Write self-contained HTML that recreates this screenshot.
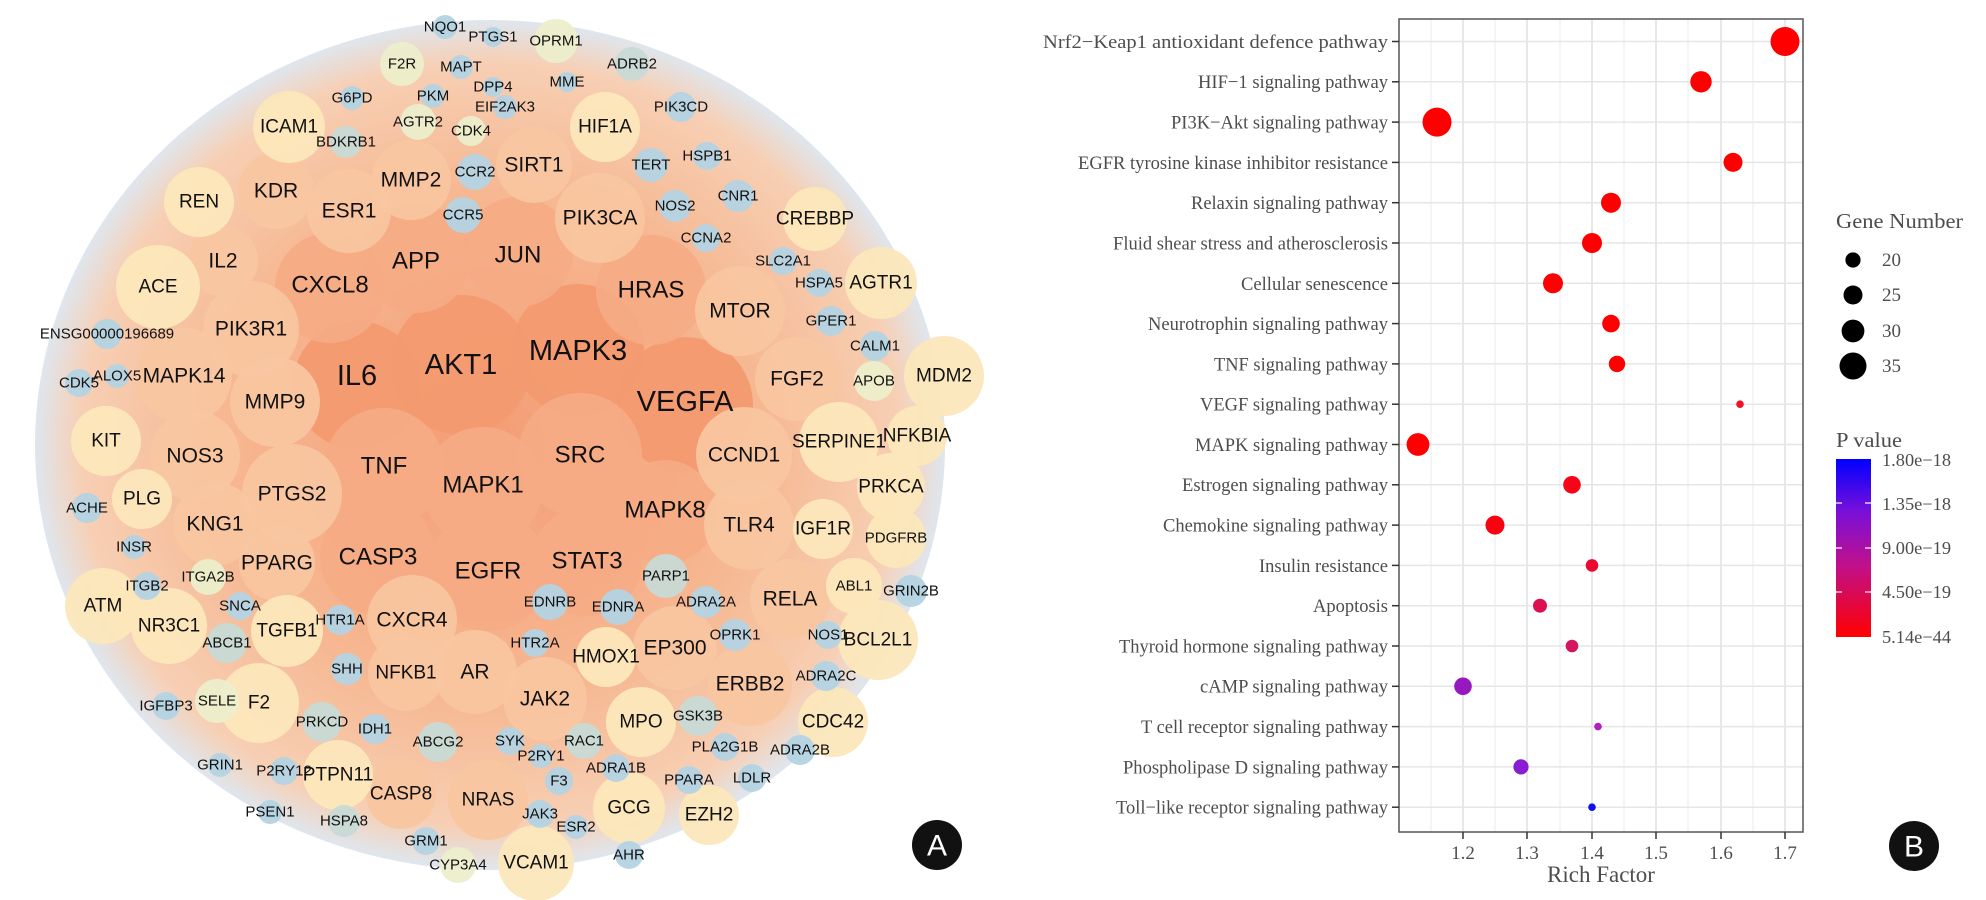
<!DOCTYPE html>
<html><head><meta charset="utf-8"><style>
html,body{margin:0;padding:0;background:#fff;}
svg{display:block;}
.b{fill:#f39a70;opacity:.95}
.o{fill:#f5ab84;opacity:.93}
.l{fill:#f8c6a0;opacity:.93}
.c{fill:#fce7ba;opacity:.95}
.g{fill:#eceecb;opacity:.95}
.s{fill:#b4d3e3;opacity:.95}
.sg{fill:#c8dad6;opacity:.95}
.na text{font-family:"Liberation Sans",sans-serif;fill:#111;text-anchor:middle;dominant-baseline:central;}
.t1{font-size:29px}.t2{font-size:24px}.t3{font-size:21px}.t4{font-size:19px}.t5{font-size:15px}
.sb text{font-family:"Liberation Serif",serif;fill:#4d4d4d;}
</style></head><body>
<svg width="1986" height="900" viewBox="0 0 1986 900">
<defs>
<radialGradient id="bg" cx="50%" cy="50%" r="50%">
<stop offset="0" stop-color="#f49c74"/><stop offset=".6" stop-color="#f6b892"/><stop offset=".9" stop-color="#f7cfb4"/><stop offset="1" stop-color="#dfe6ee"/>
</radialGradient>
<linearGradient id="cb" x1="0" y1="0" x2="0" y2="1">
<stop offset="0" stop-color="#0000ff"/><stop offset=".3" stop-color="#7a10d8"/><stop offset=".6" stop-color="#c0108a"/><stop offset="1" stop-color="#ff0000"/>
</linearGradient>
</defs>
<!-- Panel A -->
<ellipse cx="490" cy="445" rx="455" ry="425" fill="url(#bg)"/>
<g>
<circle class="b" cx="357" cy="385" r="64"/><circle class="b" cx="685" cy="405" r="68"/>
<circle class="b" cx="578" cy="350" r="66"/><circle class="b" cx="461" cy="365" r="70"/>
<circle class="o" cx="416" cy="258" r="55"/><circle class="o" cx="518" cy="252" r="55"/><circle class="o" cx="330" cy="288" r="55"/><circle class="o" cx="651" cy="290" r="55"/>
<circle class="o" cx="580" cy="455" r="62"/><circle class="o" cx="384" cy="468" r="60"/><circle class="o" cx="483" cy="487" r="60"/>
<circle class="o" cx="665" cy="512" r="52"/><circle class="o" cx="378" cy="557" r="58"/><circle class="o" cx="587" cy="561" r="55"/><circle class="o" cx="488" cy="571" r="60"/>
<circle class="l" cx="411" cy="180" r="40"/><circle class="l" cx="534" cy="165" r="38"/><circle class="l" cx="276" cy="191" r="38"/><circle class="l" cx="349" cy="211" r="42"/>
<circle class="l" cx="600" cy="218" r="45"/><circle class="l" cx="223" cy="261" r="35"/><circle class="l" cx="740" cy="311" r="45"/><circle class="l" cx="251" cy="329" r="48"/>
<circle class="l" cx="184" cy="376" r="48"/><circle class="l" cx="797" cy="379" r="42"/><circle class="l" cx="275" cy="402" r="45"/><circle class="l" cx="195" cy="456" r="45"/>
<circle class="l" cx="744" cy="455" r="48"/><circle class="l" cx="292" cy="494" r="50"/><circle class="l" cx="215" cy="524" r="42"/><circle class="l" cx="749" cy="525" r="45"/>
<circle class="l" cx="277" cy="563" r="38"/><circle class="l" cx="790" cy="599" r="40"/><circle class="l" cx="412" cy="620" r="45"/><circle class="l" cx="675" cy="648" r="42"/>
<circle class="l" cx="406" cy="673" r="38"/><circle class="l" cx="475" cy="672" r="42"/><circle class="l" cx="750" cy="684" r="42"/><circle class="l" cx="545" cy="699" r="42"/>
<circle class="l" cx="401" cy="794" r="35"/><circle class="l" cx="488" cy="800" r="40"/>
<circle class="c" cx="289" cy="127" r="36"/><circle class="c" cx="605" cy="127" r="35"/><circle class="c" cx="199" cy="202" r="35"/><circle class="c" cx="815" cy="219" r="32"/>
<circle class="c" cx="158" cy="287" r="42"/><circle class="c" cx="881" cy="283" r="36"/><circle class="c" cx="944" cy="376" r="40"/><circle class="c" cx="106" cy="441" r="35"/>
<circle class="c" cx="839" cy="442" r="40"/><circle class="c" cx="917" cy="436" r="30"/><circle class="c" cx="142" cy="499" r="30"/><circle class="c" cx="891" cy="487" r="34"/>
<circle class="c" cx="823" cy="529" r="30"/><circle class="c" cx="896" cy="538" r="30"/><circle class="c" cx="103" cy="606" r="38"/><circle class="c" cx="854" cy="586" r="28"/>
<circle class="c" cx="169" cy="626" r="38"/><circle class="c" cx="287" cy="631" r="36"/><circle class="c" cx="878" cy="640" r="40"/><circle class="c" cx="606" cy="657" r="30"/>
<circle class="c" cx="259" cy="703" r="40"/><circle class="c" cx="641" cy="722" r="35"/><circle class="c" cx="833" cy="722" r="35"/><circle class="c" cx="338" cy="775" r="35"/>
<circle class="c" cx="629" cy="808" r="36"/><circle class="c" cx="709" cy="815" r="30"/><circle class="c" cx="536" cy="863" r="38"/>
<circle class="g" cx="556" cy="41" r="22"/><circle class="g" cx="402" cy="64" r="22"/><circle class="g" cx="418" cy="122" r="18"/><circle class="g" cx="471" cy="131" r="15"/>
<circle class="g" cx="874" cy="381" r="20"/><circle class="g" cx="217" cy="701" r="22"/><circle class="g" cx="458" cy="865" r="18"/><circle class="g" cx="208" cy="577" r="18"/>
<circle class="sg" cx="632" cy="64" r="17"/><circle class="sg" cx="346" cy="142" r="16"/><circle class="sg" cx="666" cy="576" r="22"/><circle class="sg" cx="227" cy="643" r="20"/>
<circle class="sg" cx="698" cy="716" r="20"/><circle class="sg" cx="322" cy="722" r="20"/><circle class="sg" cx="438" cy="742" r="20"/><circle class="sg" cx="584" cy="741" r="18"/><circle class="sg" cx="344" cy="821" r="16"/>
<circle class="s" cx="445" cy="27" r="12"/><circle class="s" cx="493" cy="37" r="10"/><circle class="s" cx="461" cy="67" r="12"/><circle class="s" cx="567" cy="82" r="10"/>
<circle class="s" cx="493" cy="87" r="10"/><circle class="s" cx="433" cy="96" r="12"/><circle class="s" cx="352" cy="98" r="12"/><circle class="s" cx="505" cy="107" r="12"/>
<circle class="s" cx="681" cy="107" r="15"/><circle class="s" cx="475" cy="172" r="18"/><circle class="s" cx="651" cy="165" r="17"/><circle class="s" cx="707" cy="156" r="14"/>
<circle class="s" cx="463" cy="215" r="18"/><circle class="s" cx="675" cy="206" r="16"/><circle class="s" cx="738" cy="196" r="16"/><circle class="s" cx="706" cy="238" r="14"/>
<circle class="s" cx="783" cy="261" r="14"/><circle class="s" cx="819" cy="283" r="14"/><circle class="s" cx="831" cy="321" r="15"/><circle class="s" cx="107" cy="334" r="15"/>
<circle class="s" cx="875" cy="346" r="15"/><circle class="s" cx="117" cy="376" r="12"/><circle class="s" cx="79" cy="383" r="14"/><circle class="s" cx="87" cy="508" r="15"/>
<circle class="s" cx="134" cy="547" r="12"/><circle class="s" cx="147" cy="586" r="14"/><circle class="s" cx="911" cy="591" r="16"/><circle class="s" cx="240" cy="606" r="14"/>
<circle class="s" cx="550" cy="602" r="18"/><circle class="s" cx="618" cy="607" r="18"/><circle class="s" cx="706" cy="602" r="16"/><circle class="s" cx="340" cy="620" r="15"/>
<circle class="s" cx="735" cy="635" r="16"/><circle class="s" cx="828" cy="635" r="14"/><circle class="s" cx="535" cy="643" r="14"/><circle class="s" cx="347" cy="669" r="16"/>
<circle class="s" cx="826" cy="676" r="15"/><circle class="s" cx="166" cy="706" r="14"/><circle class="s" cx="375" cy="729" r="15"/><circle class="s" cx="510" cy="741" r="14"/>
<circle class="s" cx="541" cy="756" r="12"/><circle class="s" cx="725" cy="747" r="14"/><circle class="s" cx="800" cy="750" r="15"/><circle class="s" cx="220" cy="765" r="12"/>
<circle class="s" cx="284" cy="771" r="14"/><circle class="s" cx="559" cy="781" r="14"/><circle class="s" cx="616" cy="768" r="14"/><circle class="s" cx="689" cy="780" r="14"/>
<circle class="s" cx="752" cy="778" r="14"/><circle class="s" cx="270" cy="812" r="12"/><circle class="s" cx="540" cy="814" r="14"/><circle class="s" cx="576" cy="827" r="12"/>
<circle class="s" cx="426" cy="841" r="14"/><circle class="s" cx="629" cy="855" r="14"/>
</g>
<g class="na">
<text class="t1" x="357" y="376">IL6</text><text class="t1" x="461" y="365">AKT1</text><text class="t1" x="578" y="351">MAPK3</text><text class="t1" x="685" y="402">VEGFA</text>
<text class="t2" x="580" y="455">SRC</text><text class="t2" x="384" y="466">TNF</text><text class="t2" x="483" y="485">MAPK1</text><text class="t2" x="665" y="510">MAPK8</text>
<text class="t2" x="378" y="557">CASP3</text><text class="t2" x="587" y="561">STAT3</text><text class="t2" x="488" y="571">EGFR</text>
<text class="t2" x="416" y="261">APP</text><text class="t2" x="518" y="255">JUN</text><text class="t2" x="330" y="285">CXCL8</text><text class="t2" x="651" y="290">HRAS</text>
<text class="t3" x="411" y="180">MMP2</text><text class="t3" x="534" y="165">SIRT1</text><text class="t3" x="276" y="191">KDR</text><text class="t3" x="349" y="211">ESR1</text>
<text class="t3" x="600" y="218">PIK3CA</text><text class="t3" x="223" y="261">IL2</text><text class="t3" x="740" y="311">MTOR</text><text class="t3" x="251" y="329">PIK3R1</text>
<text class="t3" x="184" y="376">MAPK14</text><text class="t3" x="797" y="379">FGF2</text><text class="t3" x="275" y="402">MMP9</text><text class="t3" x="195" y="456">NOS3</text>
<text class="t3" x="744" y="455">CCND1</text><text class="t3" x="292" y="494">PTGS2</text><text class="t3" x="215" y="524">KNG1</text><text class="t3" x="749" y="525">TLR4</text>
<text class="t3" x="277" y="563">PPARG</text><text class="t3" x="790" y="599">RELA</text><text class="t3" x="412" y="620">CXCR4</text><text class="t3" x="675" y="648">EP300</text>
<text class="t4" x="406" y="673">NFKB1</text><text class="t3" x="475" y="672">AR</text><text class="t3" x="750" y="684">ERBB2</text><text class="t3" x="545" y="699">JAK2</text>
<text class="t4" x="401" y="794">CASP8</text><text class="t4" x="488" y="800">NRAS</text>
<text class="t4" x="289" y="127">ICAM1</text><text class="t4" x="605" y="127">HIF1A</text><text class="t4" x="199" y="202">REN</text><text class="t4" x="815" y="219">CREBBP</text>
<text class="t4" x="158" y="287">ACE</text><text class="t4" x="881" y="283">AGTR1</text><text class="t4" x="944" y="376">MDM2</text><text class="t4" x="106" y="441">KIT</text>
<text class="t4" x="839" y="442">SERPINE1</text><text class="t4" x="917" y="436">NFKBIA</text><text class="t4" x="142" y="499">PLG</text><text class="t4" x="891" y="487">PRKCA</text>
<text class="t4" x="823" y="529">IGF1R</text><text class="t5" x="896" y="538">PDGFRB</text><text class="t4" x="103" y="606">ATM</text><text class="t5" x="854" y="586">ABL1</text>
<text class="t4" x="169" y="626">NR3C1</text><text class="t4" x="287" y="631">TGFB1</text><text class="t4" x="878" y="640">BCL2L1</text><text class="t4" x="606" y="657">HMOX1</text>
<text class="t4" x="259" y="703">F2</text><text class="t4" x="641" y="722">MPO</text><text class="t4" x="833" y="722">CDC42</text><text class="t4" x="338" y="775">PTPN11</text>
<text class="t4" x="629" y="808">GCG</text><text class="t4" x="709" y="815">EZH2</text><text class="t4" x="536" y="863">VCAM1</text>
<text class="t5" x="556" y="41">OPRM1</text><text class="t5" x="402" y="64">F2R</text><text class="t5" x="418" y="122">AGTR2</text><text class="t5" x="471" y="131">CDK4</text>
<text class="t5" x="874" y="381">APOB</text><text class="t5" x="217" y="701">SELE</text><text class="t5" x="458" y="865">CYP3A4</text><text class="t5" x="208" y="577">ITGA2B</text>
<text class="t5" x="632" y="64">ADRB2</text><text class="t5" x="346" y="142">BDKRB1</text><text class="t5" x="666" y="576">PARP1</text><text class="t5" x="227" y="643">ABCB1</text>
<text class="t5" x="698" y="716">GSK3B</text><text class="t5" x="322" y="722">PRKCD</text><text class="t5" x="438" y="742">ABCG2</text><text class="t5" x="584" y="741">RAC1</text><text class="t5" x="344" y="821">HSPA8</text>
<text class="t5" x="445" y="27">NQO1</text><text class="t5" x="493" y="37">PTGS1</text><text class="t5" x="461" y="67">MAPT</text><text class="t5" x="567" y="82">MME</text>
<text class="t5" x="493" y="87">DPP4</text><text class="t5" x="433" y="96">PKM</text><text class="t5" x="352" y="98">G6PD</text><text class="t5" x="505" y="107">EIF2AK3</text>
<text class="t5" x="681" y="107">PIK3CD</text><text class="t5" x="475" y="172">CCR2</text><text class="t5" x="651" y="165">TERT</text><text class="t5" x="707" y="156">HSPB1</text>
<text class="t5" x="463" y="215">CCR5</text><text class="t5" x="675" y="206">NOS2</text><text class="t5" x="738" y="196">CNR1</text><text class="t5" x="706" y="238">CCNA2</text>
<text class="t5" x="783" y="261">SLC2A1</text><text class="t5" x="819" y="283">HSPA5</text><text class="t5" x="831" y="321">GPER1</text><text class="t5" x="107" y="334">ENSG00000196689</text>
<text class="t5" x="875" y="346">CALM1</text><text class="t5" x="117" y="376">ALOX5</text><text class="t5" x="79" y="383">CDK5</text><text class="t5" x="87" y="508">ACHE</text>
<text class="t5" x="134" y="547">INSR</text><text class="t5" x="147" y="586">ITGB2</text><text class="t5" x="911" y="591">GRIN2B</text><text class="t5" x="240" y="606">SNCA</text>
<text class="t5" x="550" y="602">EDNRB</text><text class="t5" x="618" y="607">EDNRA</text><text class="t5" x="706" y="602">ADRA2A</text><text class="t5" x="340" y="620">HTR1A</text>
<text class="t5" x="735" y="635">OPRK1</text><text class="t5" x="828" y="635">NOS1</text><text class="t5" x="535" y="643">HTR2A</text><text class="t5" x="347" y="669">SHH</text>
<text class="t5" x="826" y="676">ADRA2C</text><text class="t5" x="166" y="706">IGFBP3</text><text class="t5" x="375" y="729">IDH1</text><text class="t5" x="510" y="741">SYK</text>
<text class="t5" x="541" y="756">P2RY1</text><text class="t5" x="725" y="747">PLA2G1B</text><text class="t5" x="800" y="750">ADRA2B</text><text class="t5" x="220" y="765">GRIN1</text>
<text class="t5" x="284" y="771">P2RY12</text><text class="t5" x="559" y="781">F3</text><text class="t5" x="616" y="768">ADRA1B</text><text class="t5" x="689" y="780">PPARA</text>
<text class="t5" x="752" y="778">LDLR</text><text class="t5" x="270" y="812">PSEN1</text><text class="t5" x="540" y="814">JAK3</text><text class="t5" x="576" y="827">ESR2</text>
<text class="t5" x="426" y="841">GRM1</text><text class="t5" x="629" y="855">AHR</text>
</g>
<circle cx="937" cy="845" r="25" fill="#111"/>
<text x="937" y="846" font-family="Liberation Sans,sans-serif" font-size="30" fill="#fff" text-anchor="middle" dominant-baseline="central">A</text>

<!-- Panel B -->
<g stroke="#ebebeb" stroke-width="1">
<line x1="1431" y1="19" x2="1431" y2="832"/><line x1="1495" y1="19" x2="1495" y2="832"/><line x1="1560" y1="19" x2="1560" y2="832"/><line x1="1624" y1="19" x2="1624" y2="832"/><line x1="1688" y1="19" x2="1688" y2="832"/><line x1="1753" y1="19" x2="1753" y2="832"/>
</g>
<g stroke="#e0e0e0" stroke-width="1.5">
<line x1="1463" y1="19" x2="1463" y2="832"/><line x1="1527" y1="19" x2="1527" y2="832"/><line x1="1592" y1="19" x2="1592" y2="832"/><line x1="1656" y1="19" x2="1656" y2="832"/><line x1="1721" y1="19" x2="1721" y2="832"/><line x1="1785" y1="19" x2="1785" y2="832"/>
</g>
<g stroke="#e6e6e6" stroke-width="1.5">
<line x1="1399" y1="41.5" x2="1803" y2="41.5"/><line x1="1399" y1="81.8" x2="1803" y2="81.8"/><line x1="1399" y1="122.1" x2="1803" y2="122.1"/><line x1="1399" y1="162.4" x2="1803" y2="162.4"/><line x1="1399" y1="202.7" x2="1803" y2="202.7"/>
<line x1="1399" y1="243" x2="1803" y2="243"/><line x1="1399" y1="283.3" x2="1803" y2="283.3"/><line x1="1399" y1="323.6" x2="1803" y2="323.6"/><line x1="1399" y1="363.9" x2="1803" y2="363.9"/><line x1="1399" y1="404.2" x2="1803" y2="404.2"/>
<line x1="1399" y1="444.5" x2="1803" y2="444.5"/><line x1="1399" y1="484.8" x2="1803" y2="484.8"/><line x1="1399" y1="525.1" x2="1803" y2="525.1"/><line x1="1399" y1="565.4" x2="1803" y2="565.4"/><line x1="1399" y1="605.7" x2="1803" y2="605.7"/>
<line x1="1399" y1="646" x2="1803" y2="646"/><line x1="1399" y1="686.3" x2="1803" y2="686.3"/><line x1="1399" y1="726.6" x2="1803" y2="726.6"/><line x1="1399" y1="766.9" x2="1803" y2="766.9"/><line x1="1399" y1="807.2" x2="1803" y2="807.2"/>
</g>
<rect x="1399" y="19" width="404" height="813" fill="none" stroke="#555" stroke-width="1.5"/>
<g stroke="#333" stroke-width="1.5">
<line x1="1392" y1="41.5" x2="1399" y2="41.5"/><line x1="1392" y1="81.8" x2="1399" y2="81.8"/><line x1="1392" y1="122.1" x2="1399" y2="122.1"/><line x1="1392" y1="162.4" x2="1399" y2="162.4"/><line x1="1392" y1="202.7" x2="1399" y2="202.7"/>
<line x1="1392" y1="243" x2="1399" y2="243"/><line x1="1392" y1="283.3" x2="1399" y2="283.3"/><line x1="1392" y1="323.6" x2="1399" y2="323.6"/><line x1="1392" y1="363.9" x2="1399" y2="363.9"/><line x1="1392" y1="404.2" x2="1399" y2="404.2"/>
<line x1="1392" y1="444.5" x2="1399" y2="444.5"/><line x1="1392" y1="484.8" x2="1399" y2="484.8"/><line x1="1392" y1="525.1" x2="1399" y2="525.1"/><line x1="1392" y1="565.4" x2="1399" y2="565.4"/><line x1="1392" y1="605.7" x2="1399" y2="605.7"/>
<line x1="1392" y1="646" x2="1399" y2="646"/><line x1="1392" y1="686.3" x2="1399" y2="686.3"/><line x1="1392" y1="726.6" x2="1399" y2="726.6"/><line x1="1392" y1="766.9" x2="1399" y2="766.9"/><line x1="1392" y1="807.2" x2="1399" y2="807.2"/>
<line x1="1463" y1="832" x2="1463" y2="839"/><line x1="1527" y1="832" x2="1527" y2="839"/><line x1="1592" y1="832" x2="1592" y2="839"/><line x1="1656" y1="832" x2="1656" y2="839"/><line x1="1721" y1="832" x2="1721" y2="839"/><line x1="1785" y1="832" x2="1785" y2="839"/>
</g>
<g class="sb" font-size="19">
<g text-anchor="end">
<text x="1388" y="48" textLength="345" lengthAdjust="spacingAndGlyphs">Nrf2−Keap1 antioxidant defence pathway</text>
<text x="1388" y="88" textLength="190" lengthAdjust="spacingAndGlyphs">HIF−1 signaling pathway</text>
<text x="1388" y="128.5" textLength="217" lengthAdjust="spacingAndGlyphs">PI3K−Akt signaling pathway</text>
<text x="1388" y="169" textLength="310" lengthAdjust="spacingAndGlyphs">EGFR tyrosine kinase inhibitor resistance</text>
<text x="1388" y="209" textLength="197" lengthAdjust="spacingAndGlyphs">Relaxin signaling pathway</text>
<text x="1388" y="249.5" textLength="275" lengthAdjust="spacingAndGlyphs">Fluid shear stress and atherosclerosis</text>
<text x="1388" y="290" textLength="147" lengthAdjust="spacingAndGlyphs">Cellular senescence</text>
<text x="1388" y="330" textLength="240" lengthAdjust="spacingAndGlyphs">Neurotrophin signaling pathway</text>
<text x="1388" y="370.5" textLength="174" lengthAdjust="spacingAndGlyphs">TNF signaling pathway</text>
<text x="1388" y="410.5" textLength="188" lengthAdjust="spacingAndGlyphs">VEGF signaling pathway</text>
<text x="1388" y="451" textLength="193" lengthAdjust="spacingAndGlyphs">MAPK signaling pathway</text>
<text x="1388" y="491" textLength="206" lengthAdjust="spacingAndGlyphs">Estrogen signaling pathway</text>
<text x="1388" y="531.5" textLength="225" lengthAdjust="spacingAndGlyphs">Chemokine signaling pathway</text>
<text x="1388" y="572" textLength="129" lengthAdjust="spacingAndGlyphs">Insulin resistance</text>
<text x="1388" y="612" textLength="75" lengthAdjust="spacingAndGlyphs">Apoptosis</text>
<text x="1388" y="652.5" textLength="269" lengthAdjust="spacingAndGlyphs">Thyroid hormone signaling pathway</text>
<text x="1388" y="692.5" textLength="188" lengthAdjust="spacingAndGlyphs">cAMP signaling pathway</text>
<text x="1388" y="733" textLength="247" lengthAdjust="spacingAndGlyphs">T cell receptor signaling pathway</text>
<text x="1388" y="773.5" textLength="265" lengthAdjust="spacingAndGlyphs">Phospholipase D signaling pathway</text>
<text x="1388" y="813.5" textLength="272" lengthAdjust="spacingAndGlyphs">Toll−like receptor signaling pathway</text>
</g>
<g text-anchor="middle">
<text x="1463" y="859">1.2</text><text x="1527" y="859">1.3</text><text x="1592" y="859">1.4</text><text x="1656" y="859">1.5</text><text x="1721" y="859">1.6</text><text x="1785" y="859">1.7</text>
</g>
<text x="1601" y="882" text-anchor="middle" font-size="23" fill="#111">Rich Factor</text>
</g>
<g>
<circle cx="1785" cy="41.5" r="14.5" fill="#ff0000"/>
<circle cx="1701" cy="81.8" r="10.7" fill="#ff0000"/>
<circle cx="1437" cy="122.1" r="14.5" fill="#ff0000"/>
<circle cx="1733" cy="162.4" r="9.5" fill="#ff0000"/>
<circle cx="1611" cy="202.7" r="10" fill="#ff0000"/>
<circle cx="1592" cy="243" r="10" fill="#ff0000"/>
<circle cx="1553" cy="283.3" r="10" fill="#ff0000"/>
<circle cx="1611" cy="323.6" r="8.8" fill="#ff0000"/>
<circle cx="1617" cy="363.9" r="8.2" fill="#ff0000"/>
<circle cx="1740" cy="404.2" r="3.8" fill="#f2102a"/>
<circle cx="1418" cy="444.5" r="11.4" fill="#ff0000"/>
<circle cx="1572" cy="484.8" r="8.8" fill="#f60418"/>
<circle cx="1495" cy="525.1" r="9.5" fill="#f80212"/>
<circle cx="1592" cy="565.4" r="6.3" fill="#ea0a30"/>
<circle cx="1540" cy="605.7" r="7" fill="#dc1050"/>
<circle cx="1572" cy="646" r="6.3" fill="#d41660"/>
<circle cx="1463" cy="686.3" r="8.8" fill="#9818c0"/>
<circle cx="1598" cy="726.6" r="3.8" fill="#b020c0"/>
<circle cx="1521" cy="766.9" r="7.6" fill="#8a1cd2"/>
<circle cx="1592" cy="807.2" r="3.8" fill="#1010ee"/>
</g>
<!-- legends -->
<g class="sb">
<text x="1836" y="228" font-size="21" fill="#111" textLength="127" lengthAdjust="spacingAndGlyphs">Gene Number</text>
<circle cx="1853" cy="260" r="7.6" fill="#000"/><circle cx="1853" cy="295" r="9.5" fill="#000"/><circle cx="1853" cy="331" r="11.4" fill="#000"/><circle cx="1853" cy="366" r="13.5" fill="#000"/>
<g font-size="19" fill="#333"><text x="1882" y="266">20</text><text x="1882" y="301">25</text><text x="1882" y="337">30</text><text x="1882" y="372">35</text></g>
<text x="1836" y="447" font-size="21" fill="#111" textLength="66" lengthAdjust="spacingAndGlyphs">P value</text>
<rect x="1836" y="459" width="35" height="178" fill="url(#cb)"/>
<g stroke="#fff" stroke-width="1.2"><line x1="1836" y1="503" x2="1842" y2="503"/><line x1="1865" y1="503" x2="1871" y2="503"/><line x1="1836" y1="548" x2="1842" y2="548"/><line x1="1865" y1="548" x2="1871" y2="548"/><line x1="1836" y1="592" x2="1842" y2="592"/><line x1="1865" y1="592" x2="1871" y2="592"/></g>
<g font-size="18" fill="#333">
<text x="1882" y="466" textLength="69" lengthAdjust="spacingAndGlyphs">1.80e−18</text>
<text x="1882" y="510" textLength="69" lengthAdjust="spacingAndGlyphs">1.35e−18</text>
<text x="1882" y="554" textLength="69" lengthAdjust="spacingAndGlyphs">9.00e−19</text>
<text x="1882" y="598" textLength="69" lengthAdjust="spacingAndGlyphs">4.50e−19</text>
<text x="1882" y="643" textLength="69" lengthAdjust="spacingAndGlyphs">5.14e−44</text>
</g>
</g>
<circle cx="1914" cy="846" r="25" fill="#111"/>
<text x="1914" y="847" font-family="Liberation Sans,sans-serif" font-size="30" fill="#fff" text-anchor="middle" dominant-baseline="central">B</text>
</svg>
</body></html>
